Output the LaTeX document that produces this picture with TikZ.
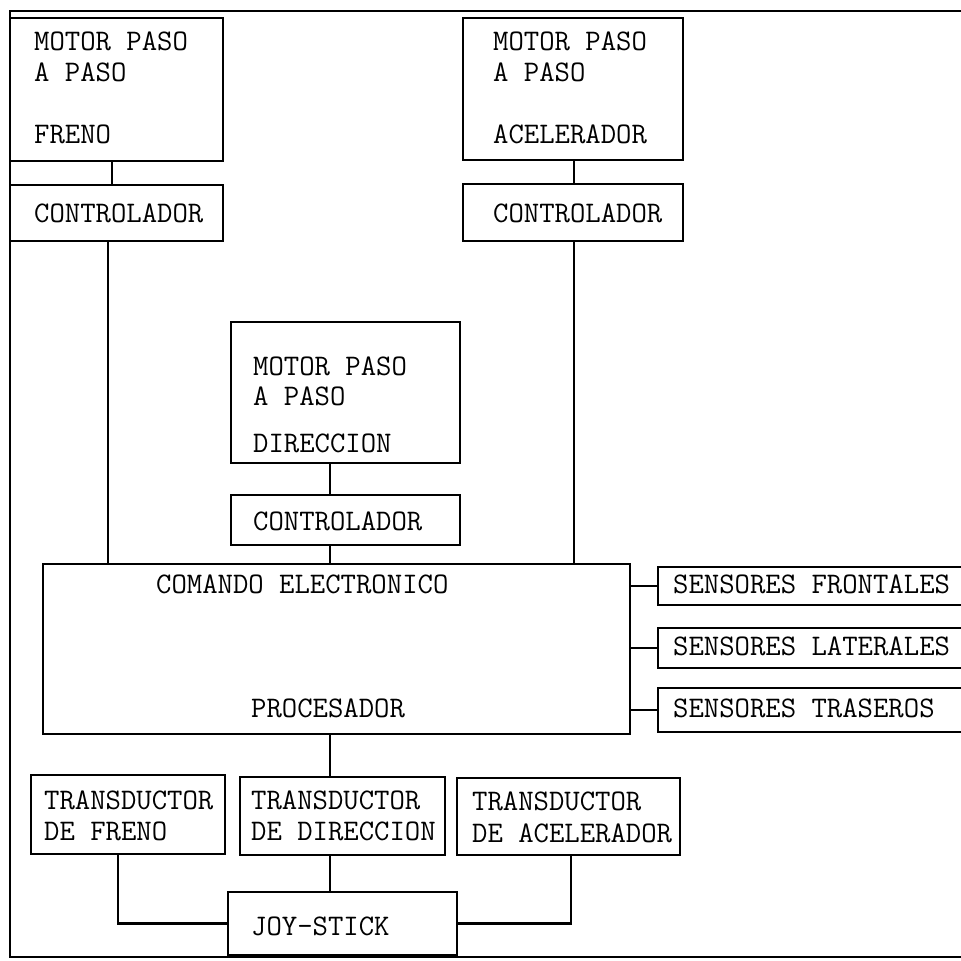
\documentclass[tikz,border=0pt]{standalone}
\usepackage{tikz}
\usetikzlibrary{fit}
\tikzset{
  blk/.style={draw, inner sep=0pt},
  txt/.style={anchor=base west, inner sep=0pt, font=\fontsize{17}{20}\selectfont\ttfamily},
}

\begin{document}
\begin{tikzpicture}[x=0.02cm, y=-0.02cm, line width=1.3pt]
  \useasboundingbox (0,0) rectangle (961,961);
  \clip (0,0) rectangle (961,961);
  \fill[white] (0,0) rectangle (961,961);

  % outer frame
  \node[blk, fit={(10,11) (975,957)}] (frame) {};

  % motors and controllers
  \node[blk, fit={(10,18) (223,161)}] (mf) {};
  \node[blk, fit={(10,185) (223,241)}] (cf) {};
  \node[blk, fit={(463,18) (683,160)}] (ma) {};
  \node[blk, fit={(463,184) (683,241)}] (ca) {};
  \node[blk, fit={(231,322) (460,463)}] (md) {};
  \node[blk, fit={(231,495) (460,545)}] (cd) {};

  % command unit and sensors
  \node[blk, fit={(43,564) (630,734)}] (cmd) {};
  \node[blk, fit={(658,567) (975,605)}] (sfr) {};
  \node[blk, fit={(658,628) (975,668)}] (sla) {};
  \node[blk, fit={(658,688) (975,732)}] (stra) {};

  % transducers and joy-stick
  \node[blk, fit={(31,775) (225,854)}] (tf) {};
  \node[blk, fit={(240,777) (445,855)}] (td) {};
  \node[blk, fit={(457,778) (680,855)}] (ta) {};
  \node[blk, fit={(228,892) (457,955)}] (js) {};

  % texts
  \node[txt] (mf1) at (33,50) {MOTOR PASO};
  \node[txt] (mf2) at (33,81) {A PASO};
  \node[txt] (mf3) at (33,143) {FRENO};
  \node[txt] (cf1) at (33,222) {CONTROLADOR};
  \node[txt] (ma1) at (492,50) {MOTOR PASO};
  \node[txt] (ma2) at (492,81) {A PASO};
  \node[txt] (ma3) at (492,143) {ACELERADOR};
  \node[txt] (ca1) at (492,222) {CONTROLADOR};
  \node[txt] (md1) at (252,375) {MOTOR PASO};
  \node[txt] (md2) at (252,405) {A PASO};
  \node[txt] (md3) at (252,452) {DIRECCION};
  \node[txt] (cd1) at (252,530) {CONTROLADOR};
  \node[txt] (cmd1) at (155,593) {COMANDO ELECTRONICO};
  \node[txt] (cmd2) at (250,717) {PROCESADOR};
  \node[txt] (sfr1) at (672,593) {SENSORES FRONTALES};
  \node[txt] (sla1) at (672,655) {SENSORES LATERALES};
  \node[txt] (stra1) at (672,717) {SENSORES TRASEROS};
  \node[txt] (tf1) at (43,809) {TRANSDUCTOR};
  \node[txt] (tf2) at (43,840) {DE FRENO};
  \node[txt] (td1) at (250,809) {TRANSDUCTOR};
  \node[txt] (td2) at (250,840) {DE DIRECCION};
  \node[txt] (ta1) at (471,810) {TRANSDUCTOR};
  \node[txt] (ta2) at (471,842) {DE ACELERADOR};
  \node[txt] (js1) at (250,935) {JOY-STICK};

  % x positions of the vertical wires
  \coordinate (xf1) at (112,0);
  \coordinate (xf2) at (108,0);
  \coordinate (xa) at (574,0);
  \coordinate (sp) at (330,0);
  \coordinate (xtf) at (118,0);
  \coordinate (xta) at (571,0);

  % wires
  \draw (mf.south -| xf1) -- (cf.north -| xf1);
  \draw (cf.south -| xf2) -- (cmd.north -| xf2);
  \draw (ma.south -| xa) -- (ca.north -| xa);
  \draw (ca.south -| xa) -- (cmd.north -| xa);
  \draw (md.south -| sp) -- (cd.north -| sp);
  \draw (cd.south -| sp) -- (cmd.north -| sp);
  \draw (cmd.east |- sfr.west) -- (sfr.west);
  \draw (cmd.east |- sla.west) -- (sla.west);
  \draw (cmd.east |- stra.west) -- (stra.west);
  \draw (cmd.south -| sp) -- (td.north -| sp);
  \draw (td.south -| sp) -- (js.north -| sp);
  \draw (tf.south -| xtf) |- (js.west);
  \draw (ta.south -| xta) |- (js.east);
\end{tikzpicture}
\end{document}
